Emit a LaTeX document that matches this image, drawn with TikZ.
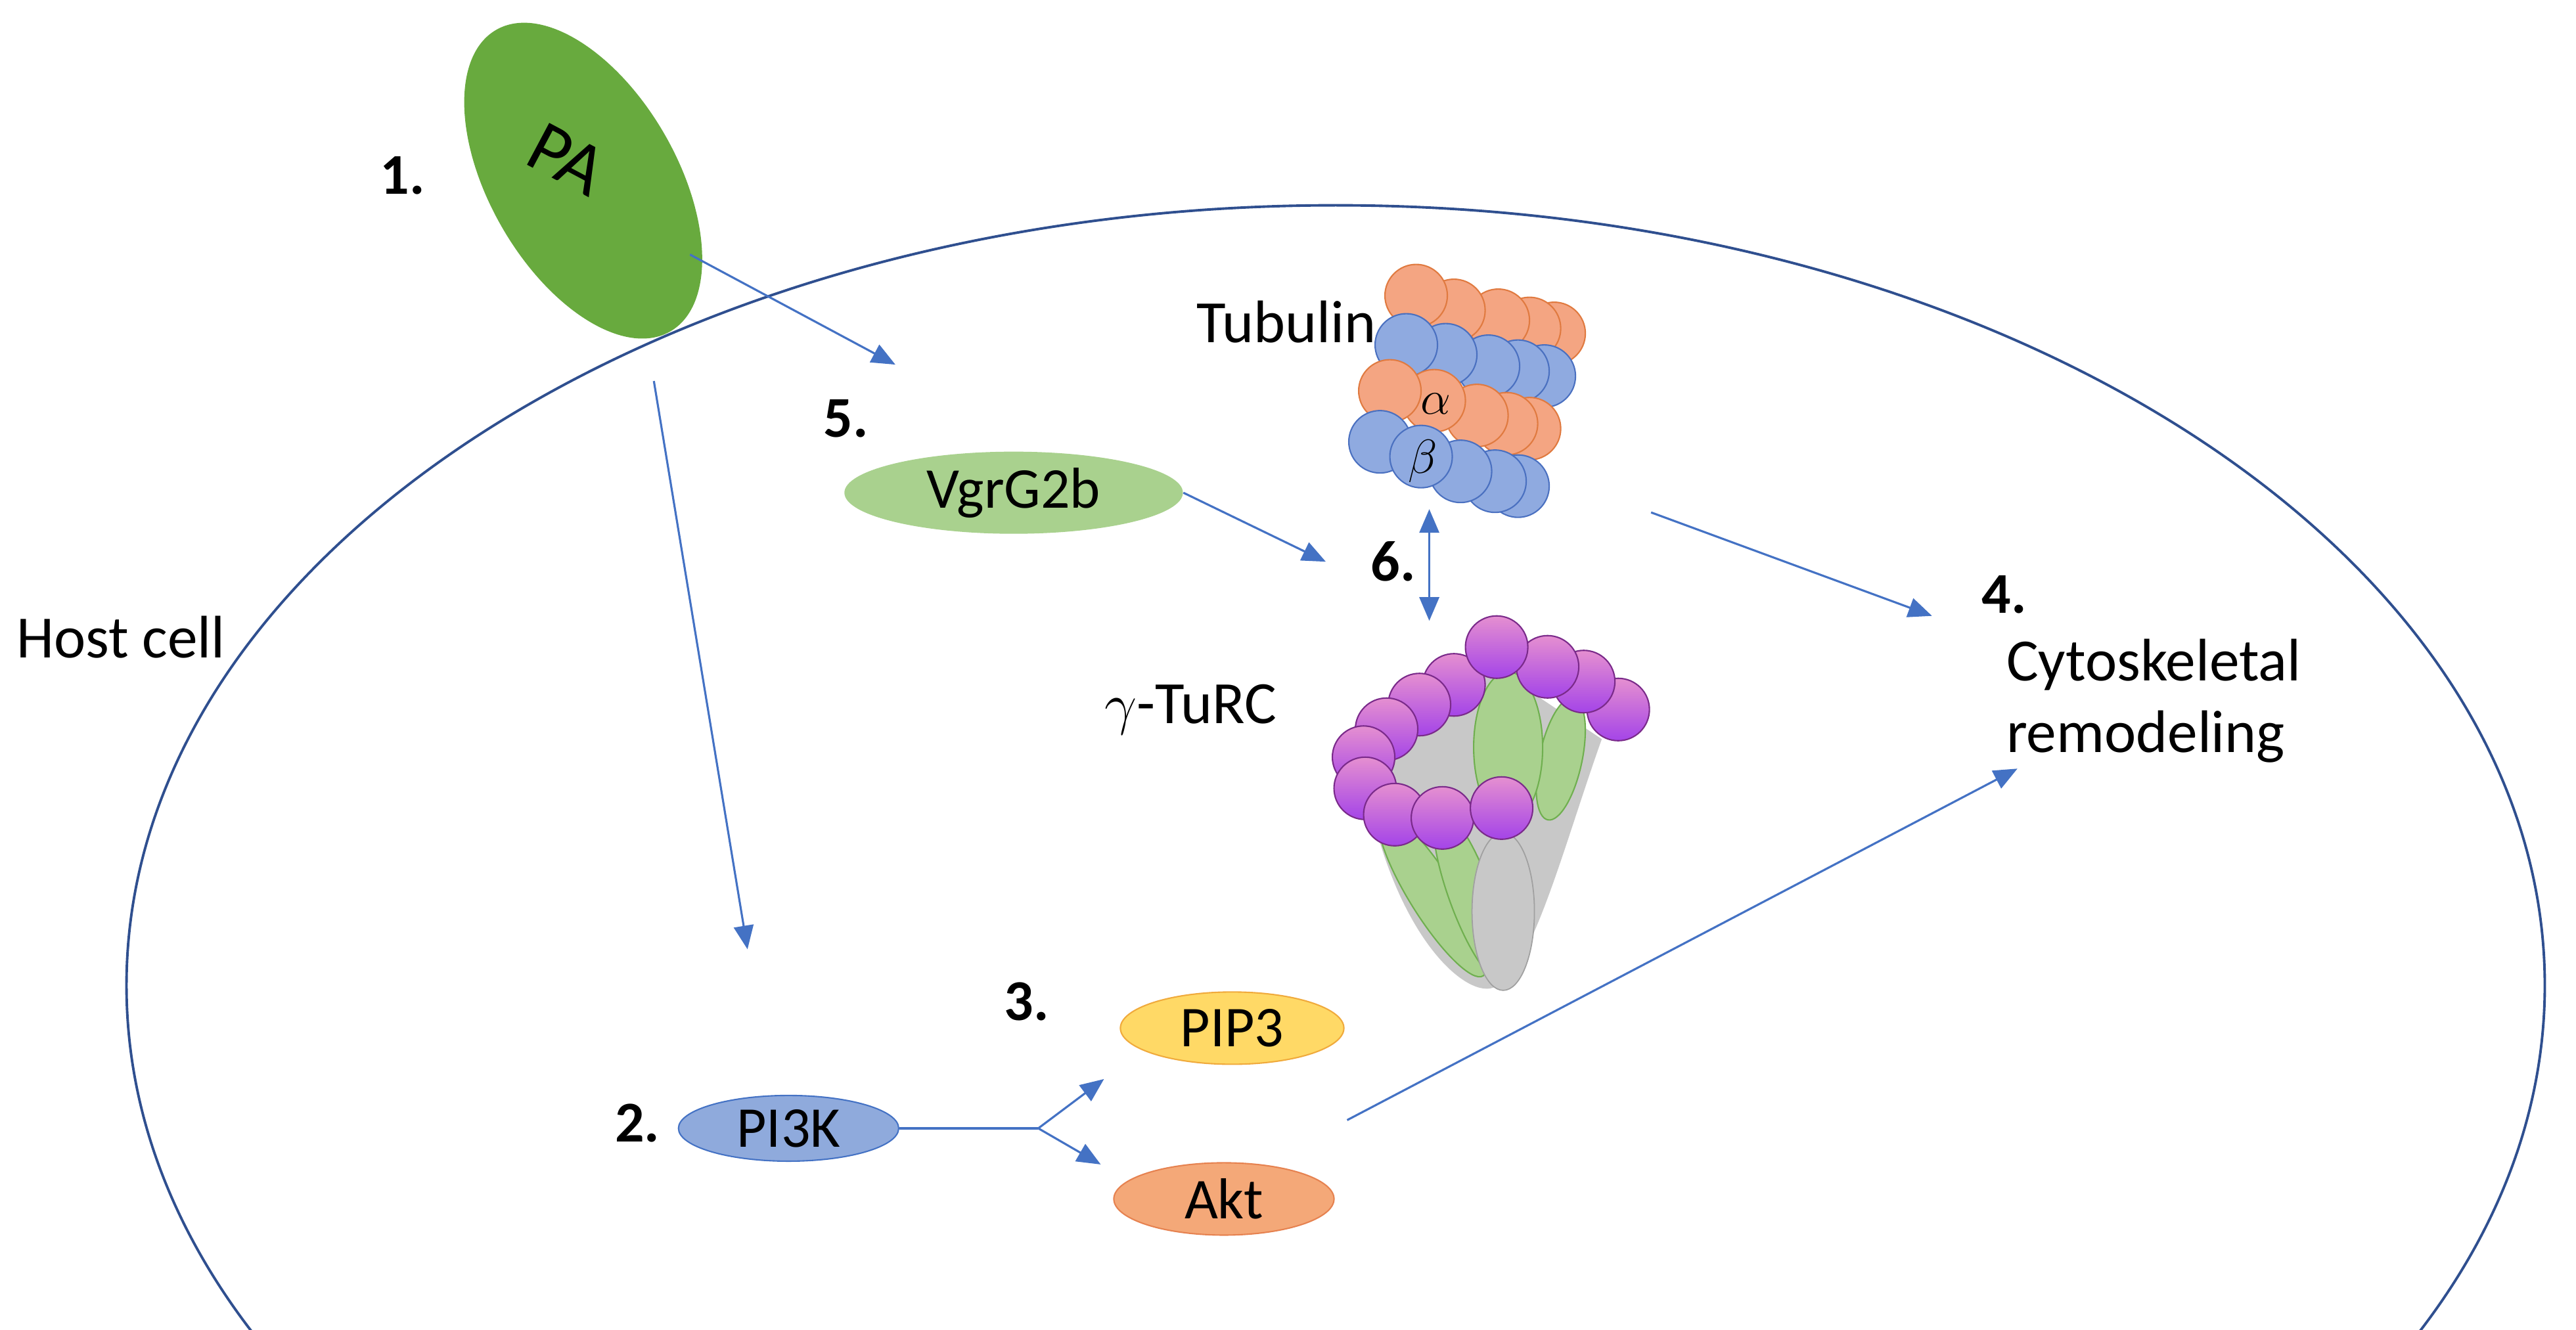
\documentclass[tikz,border=0pt]{standalone}
\usepackage{fontspec}
\setmainfont{Carlito}
\usetikzlibrary{arrows.meta,shapes.geometric}
\definecolor{arr}{HTML}{4472C4}
\definecolor{cellc}{HTML}{2F4F8F}
\definecolor{tor}{HTML}{F4A582}\definecolor{torE}{HTML}{E07A40}
\definecolor{tbl}{HTML}{8FAAE0}\definecolor{tblE}{HTML}{4A70C0}
\definecolor{spT}{HTML}{E58FD0}\definecolor{spB}{HTML}{A444E8}\definecolor{spE}{HTML}{7A2A8A}
\definecolor{grn}{HTML}{A9D18E}\definecolor{grnE}{HTML}{6FAF4F}
\definecolor{gry}{HTML}{C8C8C8}\definecolor{gryE}{HTML}{A0A0A0}
\definecolor{pagr}{RGB}{104,170,62}
\begin{document}
\begin{tikzpicture}[x=0.025cm,y=-0.025cm,
  lbl/.style={font=\fontsize{26}{31}\selectfont, inner sep=0pt},
  num/.style={font=\fontsize{25}{30}\selectfont\bfseries, inner sep=0pt},
  prot/.style={ellipse, inner sep=0pt, font=\fontsize{25}{30}\selectfont},
  con/.style={draw=arr, line width=0.9pt},
  tip/.style={con, -{Triangle[length=0.36cm,width=0.3cm]}},
  dtip/.style={con, {Triangle[length=0.36cm,width=0.3cm]}-{Triangle[length=0.36cm,width=0.3cm]}},
  tor/.style={fill=tor, draw=torE, line width=0.6pt},
  tbl/.style={fill=tbl, draw=tblE, line width=0.6pt},
  sph/.style={top color=spT, bottom color=spB, draw=spE, line width=0.6pt},
  gr/.style={fill=grn, draw=grnE, line width=0.6pt},
  gy/.style={fill=gry, draw=gryE, line width=0.5pt}]
\useasboundingbox (0,0) rectangle (1568,809.6);
\clip (0,0) rectangle (1568,809.6);
% host cell
\draw[cellc, line width=1.1pt] (813,600) ellipse [x radius=736, y radius=475];
\node[lbl, anchor=west] (host) at (10,388) {Host cell};
% PA
\fill[pagr, rotate around={-60:(355,110)}] (355,110) ellipse [x radius=106, y radius=57];
\node[font=\fontsize{32}{36}\selectfont, rotate=-28, inner sep=0pt] (pa) at (345,97) {PA};
\node[num] (n1) at (245,107) {1.};
% proteins
\node[prot, fill=grn, minimum width=5.15cm, minimum height=1.25cm] (vgr) at (617,300) {VgrG2b};
\node[num] (n5) at (515,255) {5.};
\node[prot, fill={rgb,255:red,143;green,170;blue,220}, draw=arr, line width=0.6pt, minimum width=3.35cm, minimum height=1.0cm] (pi3k) at (480,687) {PI3K};
\node[num] (n2) at (388,684) {2.};
\node[prot, fill={rgb,255:red,255;green,217;blue,102}, draw={rgb,255:red,240;green,170;blue,60}, line width=0.6pt, minimum width=3.4cm, minimum height=1.1cm] (pip3) at (750,626) {PIP3};
\node[num] (n3) at (625,610) {3.};
\node[prot, fill={rgb,255:red,244;green,168;blue,120}, draw={rgb,255:red,230;green,130;blue,80}, line width=0.6pt, minimum width=3.35cm, minimum height=1.1cm] (akt) at (745,730) {Akt};
\node[num] (n6) at (848,342) {6.};
\node[num] (n4) at (1220,362) {4.};
\node[lbl, anchor=north west, align=left] (cyto) at (1221,389) {Cytoskeletal\\remodeling};
\node[lbl, anchor=east] (tubl) at (838,196) {Tubulin};
\node[lbl, anchor=west] (gtl) at (672,432) {$\gamma$-TuRC};
% tubulin
\foreach \x/\y in {946/203,931/200,912/195,885/189,862/180} \draw[tor] (\x,\y) circle (19);
\foreach \x/\y in {940/229,924/226,906/223,880/216,856/210} \draw[tbl] (\x,\y) circle (19);
\foreach \x/\y in {931/261,917/258,899/253,873/244,846/238} \draw[tor] (\x,\y) circle (19);
\foreach \x/\y in {924/296,910/293,889/287,840/269,865/278} \draw[tbl] (\x,\y) circle (19);
\node[font=\fontsize{22}{26}\selectfont] (alpha) at (874,246) {$\alpha$};
\node[font=\fontsize{22}{26}\selectfont] (beta) at (866,281) {$\beta$};
% gamma-TuRC bodies
\fill[gry] (830,470) .. controls (845,560) and (885,602) .. (905,602) .. controls (930,602) and (950,520) .. (975,450) -- (900,400) -- cycle;
\draw[gr, rotate around={32:(872,545)}] (872,545) ellipse [x radius=14, y radius=58];
\draw[gr, rotate around={20:(895,545)}] (895,545) ellipse [x radius=13, y radius=55];
\draw[gr, rotate around={-12:(950,462)}] (950,462) ellipse [x radius=13, y radius=38];
\draw[gr] (918,455) ellipse [x radius=21, y radius=46];
\draw[gy] (915,555) ellipse [x radius=19, y radius=48];
% spheres
\foreach \x/\y in {985/432,964/415,942/406,885/417,864/429,911/394,844/444,830/461,831/480,849/496,878/498,914/492}
  \draw[sph] (\x,\y) circle (19);
% connectors
\coordinate (s5) at (420,155);
\coordinate (t5) at (545,222);
\draw[tip] (s5) -- (t5);
\coordinate (s2) at (398,232);
\coordinate (t2) at (455,578);
\draw[tip] (s2) -- (t2);
\coordinate (t6) at (807,342);
\draw[tip] (vgr.east) -- (t6);
\coordinate (d1) at (870,310);
\coordinate (d2) at (870,378);
\draw[dtip] (d1) -- (d2);
\coordinate (s4) at (1005,312);
\coordinate (t4) at (1176,375);
\draw[tip] (s4) -- (t4);
\coordinate (s4b) at (820,682);
\coordinate (t4b) at (1228,468);
\draw[tip] (s4b) -- (t4b);
\coordinate (fork) at (632,687);
\draw[con] (pi3k.east) -- (fork);
\coordinate (tpip) at (672,657);
\coordinate (takt) at (670,709);
\draw[tip] (fork) -- (tpip);
\draw[tip] (fork) -- (takt);
\end{tikzpicture}
\end{document}
